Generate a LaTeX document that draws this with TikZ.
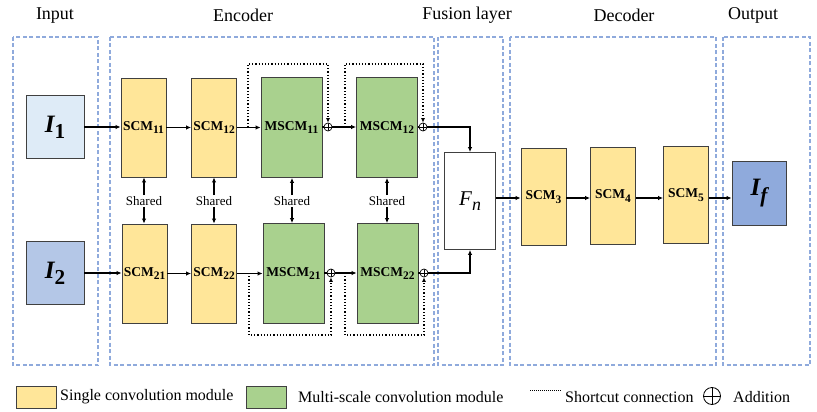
\documentclass[tikz,border=0pt]{standalone}
\usepackage{fontspec}
\usepackage{graphicx}
\setmainfont{Liberation Serif}
\usetikzlibrary{arrows.meta,calc}
\definecolor{scmY}{HTML}{FFE699}
\definecolor{mscmG}{HTML}{A9D18E}
\definecolor{inA}{HTML}{DEEBF7}
\definecolor{inB}{HTML}{B4C7E7}
\definecolor{outC}{HTML}{8FAADC}
\definecolor{dashC}{HTML}{8FAADC}
\definecolor{edgeC}{HTML}{404040}
\newcommand{\sbx}[1]{\raisebox{-0.25em}{\scalebox{0.85}{#1}}}
\begin{document}
\begin{tikzpicture}[x=1pt,y=-1pt,
  blk/.style={draw=edgeC,line width=0.9pt,inner sep=0pt,font=\fontsize{13.5}{13.5}\selectfont\bfseries},
  scm/.style={blk,fill=scmY,minimum width=45pt,minimum height=99pt},
  mscm/.style={blk,fill=mscmG,minimum width=61pt,minimum height=100pt},
  img/.style={draw=edgeC,line width=0.9pt,inner sep=0pt,minimum width=58pt,minimum height=63pt,font=\fontsize{25}{25}\selectfont\bfseries\itshape},
  grp/.style={draw=dashC,line width=1.1pt,dash pattern=on 4pt off 2.5pt},
  ttl/.style={font=\fontsize{18}{18}\selectfont},
  shr/.style={font=\fontsize{13}{13}\selectfont,inner sep=1pt},
  lgd/.style={font=\fontsize{16}{16}\selectfont,anchor=west,inner sep=0pt},
  arr/.style={-{Latex[length=5pt,width=4.5pt]},line width=1.1pt},
  ln/.style={line width=1.1pt},
  sc/.style={dotted,line width=1.2pt,-{Latex[length=4.5pt,width=4pt]}},
  addn/.style={circle,draw,line width=0.7pt,minimum size=8pt,inner sep=0pt,fill=white,
    path picture={\draw[line width=0.6pt] (path picture bounding box.north) -- (path picture bounding box.south) (path picture bounding box.west) -- (path picture bounding box.east);}}
]
\useasboundingbox (0,0) rectangle (817,412);

% group frames
\draw[grp] (13,37) rectangle (98,365);
\draw[grp] (110,37) rectangle (434,365);
\draw[grp] (438,37) rectangle (503,365);
\draw[grp] (510,37) rectangle (716,365);
\draw[grp] (723,37) rectangle (810,365);

% titles
\node[ttl] (tIn) at (55,16) {Input};
\node[ttl] (tEnc) at (243,15) {Encoder};
\node[ttl] (tFus) at (467,15) {Fusion layer};
\node[ttl] (tDec) at (624,15) {Decoder};
\node[ttl] (tOut) at (753,15) {Output};

% inputs
\node[img,fill=inA] (I1) at (55,127) {I\sbx{\upshape 1}};
\node[img,fill=inB] (I2) at (55,273) {I\sbx{\upshape 2}};

% encoder top
\node[scm] (scm11) at (143.5,127.5) {SCM\sbx{11}};
\node[scm] (scm12) at (214,127.5) {SCM\sbx{12}};
\node[mscm] (mscm11) at (291.5,127.5) {MSCM\sbx{11}};
\node[mscm] (mscm12) at (387,127.5) {MSCM\sbx{12}};
\node[addn] (add1) at (328,127) {};
\node[addn] (add2) at (423,127) {};

% encoder bottom
\node[scm] (scm21) at (144.5,273.5) {SCM\sbx{21}};
\node[scm] (scm22) at (214,273.5) {SCM\sbx{22}};
\node[mscm] (mscm21) at (293.5,273.5) {MSCM\sbx{21}};
\node[mscm] (mscm22) at (387.5,273.5) {MSCM\sbx{22}};
\node[addn] (add3) at (331,273) {};
\node[addn] (add4) at (424,273) {};

% shared
\node[shr] (sh1) at (144,201) {Shared};
\node[shr] (sh2) at (214,201) {Shared};
\node[shr] (sh3) at (292,201) {Shared};
\node[shr] (sh4) at (387,201) {Shared};
\foreach \s/\a/\b in {sh1/scm11/scm21,sh2/scm12/scm22,sh3/mscm11/mscm21,sh4/mscm12/mscm22}{
  \draw[arr] (\s.north) -- (\s.north |- \a.south);
  \draw[arr] (\s.south) -- (\s.south |- \b.north);
}

% top row connectors
\draw[arr] (I1.east) -- (scm11.west |- I1.east);
\draw[arr] (scm11) -- (scm12);
\draw[arr] (scm12) -- (mscm11);
\draw[ln] (mscm11.east |- add1) -- (add1);
\draw[arr] (add1) -- (mscm12.west |- add1);
\draw[ln] (mscm12.east |- add2) -- (add2);
\coordinate (s1) at (248,127);
\coordinate (s2) at (345,127);
\draw[sc] (s1) -- (s1 |- 0,64) -| (add1.north);
\draw[sc] (s2) -- (s2 |- 0,64) -| (add2.north);

% bottom row connectors
\draw[arr] (I2.east) -- (scm21.west |- I2.east);
\draw[arr] (scm21) -- (scm22);
\draw[arr] (scm22) -- (mscm21);
\draw[ln] (mscm21.east |- add3) -- (add3);
\draw[arr] (add3) -- (mscm22.west |- add3);
\draw[ln] (mscm22.east |- add4) -- (add4);
\coordinate (s3) at (249,273);
\coordinate (s4) at (345,273);
\draw[sc] (s3) -- (s3 |- 0,335) -| (add3.south);
\draw[sc] (s4) -- (s4 |- 0,335) -| (add4.south);

% fusion
\node[draw=edgeC,line width=0.9pt,fill=white,minimum width=51pt,minimum height=97pt,inner sep=0pt,font=\fontsize{21}{21}\selectfont] (Fn) at (470,201) {\textit{F}\sbx{\textit{n}}};
\draw[arr] (add2) -| (Fn.north);
\draw[arr] (add4) -| (Fn.south);

% decoder
\node[scm,minimum height=97pt] (scm3) at (543.5,197) {SCM\sbx{3}};
\node[scm,minimum height=97pt] (scm4) at (613,196) {SCM\sbx{4}};
\node[scm,minimum height=97pt] (scm5) at (686,195) {SCM\sbx{5}};
\node[img,fill=outC,minimum width=54pt,minimum height=64pt] (If) at (759,193) {I\sbx{f}};
\coordinate (dy) at (0,198);
\draw[arr] (Fn.east |- dy) -- (scm3.west |- dy);
\draw[arr] (scm3.east |- dy) -- (scm4.west |- dy);
\draw[arr] (scm4.east |- dy) -- (scm5.west |- dy);
\draw[arr] (scm5.east |- dy) -- (If.west |- dy);

% legend
\node[draw=edgeC,line width=0.9pt,fill=scmY,minimum width=40pt,minimum height=22pt,inner sep=0pt] (lgY) at (36,397) {};
\node[lgd] (lgYt) at (60,397) {Single convolution module};
\node[draw=edgeC,line width=0.9pt,fill=mscmG,minimum width=40pt,minimum height=22pt,inner sep=0pt] (lgG) at (266,397) {};
\node[lgd] (lgGt) at (298,397) {Multi-scale convolution module};
\coordinate (lgS1) at (530,390);
\coordinate (lgS2) at (561,390);
\draw[densely dotted,line width=1pt] (lgS1) -- (lgS2);
\node[lgd] (lgSt) at (565,397) {Shortcut connection};
\node[circle,draw,line width=0.8pt,minimum size=17pt,inner sep=0pt,
  path picture={\draw[line width=0.8pt] (path picture bounding box.north) -- (path picture bounding box.south) (path picture bounding box.west) -- (path picture bounding box.east);}] (lgA) at (712,396) {};
\node[lgd] (lgAt) at (733,397) {Addition};
\end{tikzpicture}
\end{document}
